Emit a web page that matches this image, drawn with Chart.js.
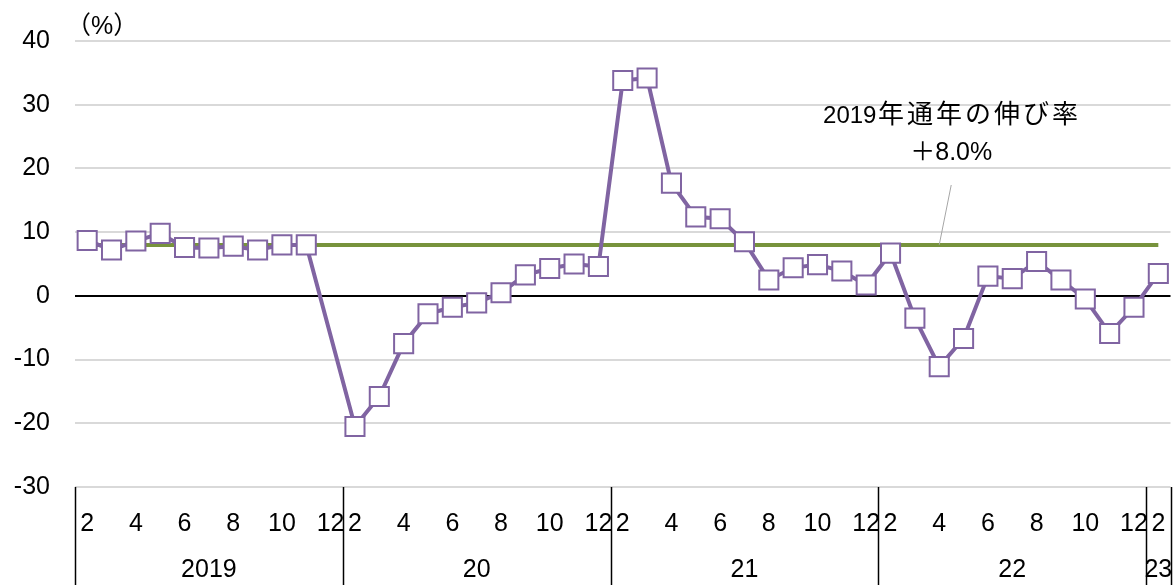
<!DOCTYPE html>
<html>
<head>
<meta charset="utf-8">
<script src="https://cdn.jsdelivr.net/npm/chart.js@4/dist/chart.umd.min.js"></script>
<style>
  html, body { margin: 0; padding: 0; background: #fff; overflow: hidden; width: 1174px; height: 585px; }
  canvas { display: block; }
</style>
</head>
<body>
<canvas id="chart" width="1186" height="585"></canvas>
<script>
// months shown per year (Jan-Feb reported together as "2")
const months = ['2', '3', '4', '5', '6', '7', '8', '9', '10', '11', '12'];
const years = ['2019', '20', '21', '22', '23'];
const monthsPerYear = [11, 11, 11, 11, 1];

// year-on-year growth (%)
const growth2019 = [8.7, 7.2, 8.6, 9.8, 7.6, 7.5, 7.8, 7.2, 8.0, 8.0, null];
const growth2020 = [-20.5, -15.8, -7.5, -2.8, -1.8, -1.1, 0.5, 3.3, 4.3, 5.0, 4.6];
const growth2021 = [33.8, 34.2, 17.7, 12.4, 12.1, 8.5, 2.5, 4.4, 4.9, 3.9, 1.7];
const growth2022 = [6.7, -3.5, -11.1, -6.7, 3.1, 2.7, 5.4, 2.5, -0.5, -5.9, -1.8];
const growth2023 = [3.5];

const annual2019 = 8.0;
const noteYear = '2019';
const noteWords = '年通年の伸び率';
const noteValue = '＋8.0%';
const yTicks = [40, 30, 20, 10, 0, -10, -20, -30];

let labels = [];
years.forEach((y, i) => {
    for (let m = 0; m < monthsPerYear[i]; m++) labels.push(months[m]);
});
const growth = [].concat(growth2019, growth2020, growth2021, growth2022, growth2023);
// flat line for the 2019 annual rate: only first and last points, gap spanned
const annualLine = labels.map((l, i) => (i === 0 || i === labels.length - 1) ? annual2019 : null);

const FONT = '"Liberation Sans", Arial, "Noto Sans CJK JP", sans-serif';

const extras = {
    id: 'extras',
    afterDraw(chart) {
        const ctx = chart.ctx;
        const xs = chart.scales.x;
        const ys = chart.scales.y;
        const area = chart.chartArea;
        const step = xs.getPixelForValue(1) - xs.getPixelForValue(0);
        ctx.save();
        // group separators and year labels
        ctx.strokeStyle = '#000';
        ctx.lineWidth = 1.5;
        let start = 0;
        const bounds = [];
        years.forEach((y, i) => {
            const left = xs.getPixelForValue(start) - step / 2;
            const right = xs.getPixelForValue(start + monthsPerYear[i] - 1) + step / 2;
            bounds.push(left);
            if (i === years.length - 1) bounds.push(right);
            ctx.fillStyle = '#000';
            ctx.font = '25px ' + FONT;
            ctx.textAlign = 'center';
            ctx.textBaseline = 'middle';
            ctx.fillText(y, (left + right) / 2, 570);
            start += monthsPerYear[i];
        });
        bounds.forEach(b => {
            ctx.beginPath();
            ctx.moveTo(Math.round(b) + 0.5, area.bottom);
            ctx.lineTo(Math.round(b) + 0.5, chart.height);
            ctx.stroke();
        });
        // unit
        ctx.font = '25px ' + FONT;
        ctx.textAlign = 'left';
        ctx.fillText('（%）', 66, 27);
        // note with leader line
        const lineY = ys.getPixelForValue(annual2019);
        const ax = xs.getPixelForValue(35);
        ctx.strokeStyle = '#a6a6a6';
        ctx.lineWidth = 1;
        ctx.beginPath();
        ctx.moveTo(ax, lineY);
        ctx.lineTo(ax + 12, 185);
        ctx.stroke();
        // first line: digits then wider-spaced kana/kanji
        const cx = ax + 12;
        ctx.font = '24px ' + FONT;
        const yearW = ctx.measureText(noteYear).width;
        const charStep = 29;
        const total = yearW + noteWords.length * charStep;
        let x = cx - total / 2;
        ctx.textAlign = 'left';
        ctx.fillText(noteYear, x, 116);
        x += yearW;
        ctx.font = '26px ' + FONT;
        for (const ch of noteWords) {
            const w = ctx.measureText(ch).width;
            ctx.fillText(ch, x + (charStep - w) / 2, 116);
            x += charStep;
        }
        ctx.font = '25px ' + FONT;
        ctx.textAlign = 'center';
        ctx.fillText(noteValue, cx, 153);
        ctx.restore();
    }
};

new Chart(document.getElementById('chart'), {
    type: 'line',
    data: {
        labels: labels,
        datasets: [{
            data: annualLine,
            borderColor: '#77933C',
            borderWidth: 4,
            pointRadius: 0,
            spanGaps: true,
            order: 2
        }, {
            data: growth,
            borderColor: '#8064A2',
            borderWidth: 4,
            pointStyle: 'rect',
            pointRadius: 13.5,
            pointHoverRadius: 13.5,
            pointBackgroundColor: '#fff',
            pointBorderColor: '#8064A2',
            pointBorderWidth: 2,
            spanGaps: true,
            order: 1
        }]
    },
    options: {
        responsive: false,
        animation: false,
        devicePixelRatio: 1,
        layout: { padding: { top: 41, right: 4, left: 0, bottom: 0 } },
        plugins: { legend: { display: false }, tooltip: { enabled: false } },
        scales: {
            x: {
                offset: true,
                grid: { display: false, drawTicks: true, tickLength: 22 },
                border: { display: false },
                ticks: {
                    autoSkip: false,
                    maxRotation: 0,
                    padding: 0,
                    color: '#000',
                    font: { family: FONT, size: 25 },
                    callback: function (v) {
                        const l = this.getLabelForValue(v);
                        return (parseInt(l) % 2 === 0) ? l : '';
                    }
                },
                afterFit: s => { s.height = 98; s.paddingLeft = 0; s.paddingRight = 0; }
            },
            y: {
                min: -30,
                max: 40,
                afterBuildTicks: s => { s.ticks = yTicks.map(v => ({ value: v })); },
                grid: {
                    drawTicks: false,
                    lineWidth: 2,
                    color: ctx => ctx.tick && ctx.tick.value === 0 ? '#000' : '#d9d9d9'
                },
                border: { display: false },
                ticks: {
                    padding: 25,
                    color: '#000',
                    font: { family: FONT, size: 25 }
                },
                afterFit: s => { s.width = 75; }
            }
        }
    },
    plugins: [extras]
});
</script>
</body>
</html>
